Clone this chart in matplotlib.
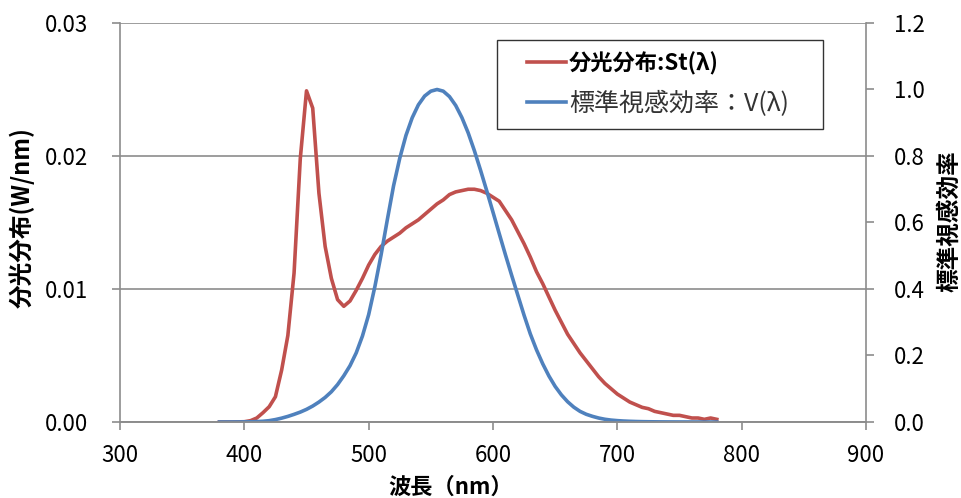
import matplotlib
matplotlib.use("Agg")
import matplotlib.pyplot as plt
from matplotlib.ticker import FormatStrFormatter
from matplotlib.legend_handler import HandlerLine2D

plt.rcParams['font.family'] = ['Noto Sans CJK JP', 'DejaVu Sans']

# Spectral distribution St(λ)
st_wl = [380, 390, 400, 405, 410, 415, 420, 425, 430, 435, 440, 445, 450, 455, 460,
         465, 470, 475, 480, 485, 490, 495, 500, 505, 510, 515, 520, 525, 530, 535,
         540, 545, 550, 555, 560, 565, 570, 575, 580, 585, 590, 595, 600, 605, 610,
         615, 620, 625, 630, 635, 640, 645, 650, 655, 660, 665, 670, 675, 680, 685,
         690, 695, 700, 705, 710, 715, 720, 725, 730, 735, 740, 745, 750, 755, 760,
         765, 770, 775, 780]
st_val = [0.0, 0.0, 0.00002, 0.0001, 0.0003, 0.0007, 0.00115, 0.0019, 0.0039, 0.0065,
          0.0112, 0.0198, 0.0249, 0.0236, 0.0172, 0.0132, 0.0108, 0.0092, 0.0087, 0.0091,
          0.0099, 0.0108, 0.0118, 0.0126, 0.0132, 0.0136, 0.0139, 0.0142, 0.0146, 0.0149,
          0.0152, 0.0156, 0.0160, 0.0164, 0.0167, 0.0171, 0.0173, 0.0174, 0.0175, 0.0175,
          0.0174, 0.0172, 0.0169, 0.0166, 0.0159, 0.0152, 0.0143, 0.0134, 0.0124, 0.0113,
          0.0104, 0.0094, 0.0084, 0.0075, 0.0066, 0.0059, 0.0052, 0.0046, 0.0040, 0.0034,
          0.0029, 0.0025, 0.0021, 0.0018, 0.0015, 0.0013, 0.0011, 0.0010, 0.0008, 0.0007,
          0.0006, 0.0005, 0.0005, 0.0004, 0.0003, 0.0003, 0.0002, 0.0003, 0.0002]

# Standard luminous efficiency V(λ)
v_wl = list(range(380, 781, 5))
v_val = [0.000039, 0.000064, 0.00012, 0.000217, 0.000396, 0.00064, 0.00121, 0.00218,
         0.004, 0.0073, 0.0116, 0.01684, 0.023, 0.0298, 0.038, 0.048, 0.06, 0.0739,
         0.09098, 0.1126, 0.13902, 0.1693, 0.20802, 0.2586, 0.323, 0.4073, 0.503, 0.6082,
         0.71, 0.7932, 0.862, 0.91485, 0.954, 0.9803, 0.99495, 1.0, 0.995, 0.9786, 0.952,
         0.9154, 0.87, 0.8163, 0.757, 0.6949, 0.631, 0.5668, 0.503, 0.4412, 0.381, 0.321,
         0.265, 0.217, 0.175, 0.1382, 0.107, 0.0816, 0.061, 0.04458, 0.032, 0.0232, 0.017,
         0.01192, 0.00821, 0.005723, 0.004102, 0.002929, 0.002091, 0.001484, 0.001047,
         0.00074, 0.00052, 0.000361, 0.000249, 0.000172, 0.00012, 0.0000848, 0.00006,
         0.0000424, 0.00003, 0.0000212, 0.000015]

x_ticks = [300, 400, 500, 600, 700, 800, 900]
left_ticks = [0.0, 0.01, 0.02, 0.03]
right_ticks = [0.0, 0.2, 0.4, 0.6, 0.8, 1.0, 1.2]

label_st = '分光分布:St(λ)'
label_v = '標準視感効率：V(λ)'

RED = '#C0504D'
BLUE = '#4F81BD'
GRID = '#8C8C8C'

fig = plt.figure(figsize=(9.62, 4.98), dpi=100)
ax = fig.add_axes([120/962, 1-422/498, (866-120)/962, (422-23)/498])
ax2 = ax.twinx()

l1, = ax.plot(st_wl, st_val, color=RED, lw=2.6, solid_joinstyle='round')
l2, = ax2.plot(v_wl, v_val, color=BLUE, lw=2.6, solid_joinstyle='round')

ax.set_xlim(300, 900)
ax.set_ylim(0, 0.03)
ax2.set_ylim(0, 1.2)
ax.set_xticks(x_ticks)
ax.set_yticks(left_ticks)
ax2.set_yticks(right_ticks)
ax.yaxis.set_major_formatter(FormatStrFormatter('%.2f'))
ax2.yaxis.set_major_formatter(FormatStrFormatter('%.1f'))

ax.grid(axis='y', color=GRID, lw=1.2)
ax.set_axisbelow(True)
for a in (ax, ax2):
    a.spines['top'].set_visible(False)
    for s in ('left', 'right', 'bottom'):
        a.spines[s].set_color(GRID)
        a.spines[s].set_linewidth(1.2)
    a.tick_params(colors=GRID, width=1.2, length=6, labelcolor='black', labelsize=16)
ax2.spines['left'].set_visible(False)
ax.spines['right'].set_visible(False)
ax.tick_params(axis='x', pad=10)
ax.tick_params(axis='y', pad=17)
ax2.tick_params(axis='y', pad=14)

ax.set_xlabel('波長（nm）', fontsize=16, fontweight='bold')
ax.set_ylabel('分光分布(W/nm)', fontsize=17, fontweight='bold')
ax2.set_ylabel('標準視感効率', fontsize=17, fontweight='bold')
ax.xaxis.label.set_va('center')
ax.yaxis.label.set_va('center')
ax2.yaxis.label.set_va('center')
ax.xaxis.set_label_coords((451-120)/746, (422-487)/399)
ax.yaxis.set_label_coords((22-120)/746, (422-218)/399)
ax2.yaxis.set_label_coords((949-120)/746, (422-221)/399)

fs = 18
leg = fig.legend([l1, l2], [label_st, label_v], loc='upper left',
                 bbox_to_anchor=(497/962, 1-124/498, 326/962, 84/498),
                 bbox_transform=fig.transFigure, mode='expand',
                 fontsize=fs, frameon=True, fancybox=False, edgecolor='black',
                 borderpad=0.48, handlelength=2.3, handletextpad=0.1,
                 labelspacing=0.6, borderaxespad=0,
                 handler_map={l1: HandlerLine2D(xpad=0.72), l2: HandlerLine2D(xpad=0.72)})
leg.get_frame().set_linewidth(1.0)
t1, t2 = leg.get_texts()
t1.set_fontweight('bold')
t1.set_fontsize(16)
t2.set_color('#333333')

fig.savefig('out.png', dpi=100)
